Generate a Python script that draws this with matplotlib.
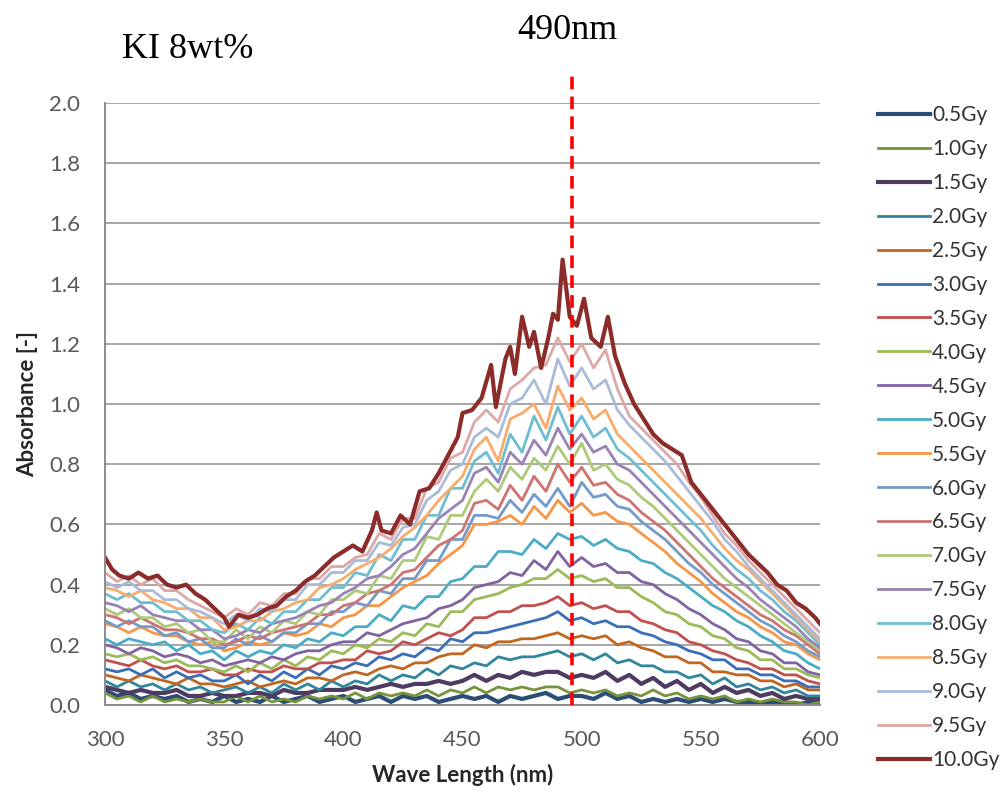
import numpy as np
import matplotlib
matplotlib.use("Agg")
import matplotlib.pyplot as plt

plt.rcParams['font.family'] = ['Lato', 'DejaVu Sans']

# Wellenlaengen-Raster (nm) fuer die meisten Kurven
wl = np.arange(300, 601, 5)

# Absorbanz je Dosis (61 Punkte, 300..600 nm)
abs_05 = [.05, .03, .04, .02, .03, .02, .03, .01, .02, .01,
          .03, .01, .02, .01, .03, .01, .02, .03, .01, .02,
          .03, .01, .02, .03, .01, .03, .02, .03, .01, .02,
          .03, .02, .03, .01, .03, .02, .03, .04, .02, .03,
          .03, .02, .04, .02, .03, .01, .02, .01, .02, .01,
          .02, .01, .02, .01, .01, .00, .01, .01, .00, .01,
          .01]
abs_10 = [.04, .02, .03, .01, .03, .01, .02, .01, .02, .01,
          .01, .03, .01, .03, .01, .02, .01, .03, .02, .03,
          .02, .04, .02, .04, .03, .04, .03, .05, .03, .05,
          .04, .06, .04, .06, .05, .06, .05, .06, .06, .04,
          .05, .04, .05, .03, .04, .03, .05, .03, .04, .02,
          .03, .02, .03, .01, .02, .01, .02, .01, .01, .00,
          .01]
abs_15 = [.06, .05, .04, .05, .04, .04, .05, .03, .03, .04,
          .03, .03, .04, .04, .03, .05, .04, .04, .05, .05,
          .05, .06, .05, .06, .07, .06, .07, .07, .08, .07,
          .08, .10, .08, .10, .09, .11, .10, .11, .11, .09,
          .10, .09, .11, .08, .10, .07, .09, .06, .08, .05,
          .07, .04, .06, .04, .05, .03, .04, .02, .03, .02,
          .02]
abs_20 = [.08, .06, .08, .06, .07, .05, .07, .05, .06, .04,
          .05, .06, .04, .06, .04, .07, .05, .07, .05, .08,
          .06, .08, .07, .10, .08, .10, .09, .12, .10, .13,
          .12, .14, .13, .16, .15, .16, .16, .17, .18, .16,
          .17, .15, .17, .14, .15, .13, .13, .11, .11, .09,
          .10, .07, .09, .06, .07, .05, .06, .04, .05, .03,
          .03]
abs_25 = [.10, .09, .08, .10, .09, .08, .07, .09, .07, .07,
          .06, .07, .08, .06, .07, .08, .07, .09, .09, .08,
          .10, .11, .10, .12, .13, .12, .14, .14, .16, .17,
          .17, .20, .19, .21, .21, .22, .22, .23, .24, .22,
          .23, .22, .23, .20, .21, .19, .18, .16, .16, .14,
          .14, .11, .11, .10, .10, .08, .08, .06, .07, .05,
          .05]
abs_30 = [.12, .11, .12, .10, .12, .09, .11, .09, .10, .08,
          .08, .10, .07, .10, .08, .11, .09, .12, .10, .13,
          .12, .14, .13, .16, .15, .17, .16, .19, .18, .22,
          .21, .24, .24, .25, .26, .27, .28, .29, .31, .28,
          .29, .27, .28, .26, .26, .24, .23, .21, .20, .18,
          .17, .15, .15, .12, .12, .10, .10, .08, .08, .06,
          .06]
abs_35 = [.15, .14, .13, .15, .13, .12, .13, .11, .11, .12,
          .10, .10, .12, .11, .11, .13, .12, .12, .14, .14,
          .15, .15, .18, .17, .18, .21, .20, .22, .24, .23,
          .25, .29, .29, .31, .31, .33, .33, .34, .36, .33,
          .34, .32, .33, .31, .31, .28, .27, .25, .24, .21,
          .20, .18, .17, .15, .14, .12, .12, .10, .10, .08,
          .07]
abs_40 = [.17, .16, .17, .15, .16, .14, .15, .13, .13, .12,
          .11, .13, .11, .14, .12, .15, .13, .16, .15, .18,
          .17, .20, .19, .22, .21, .24, .23, .27, .26, .31,
          .31, .35, .36, .37, .39, .40, .42, .42, .45, .42,
          .43, .41, .42, .39, .39, .36, .34, .31, .30, .27,
          .26, .23, .22, .19, .18, .15, .15, .12, .12, .10,
          .09]
abs_45 = [.20, .19, .17, .19, .18, .16, .17, .16, .14, .15,
          .13, .14, .15, .14, .16, .15, .17, .18, .18, .20,
          .21, .21, .24, .23, .25, .27, .28, .29, .32, .33,
          .35, .39, .40, .41, .44, .43, .48, .45, .51, .46,
          .49, .46, .47, .44, .44, .41, .40, .37, .35, .32,
          .30, .27, .25, .22, .21, .18, .17, .14, .14, .11,
          .10]
abs_50 = [.22, .20, .22, .21, .20, .21, .18, .20, .17, .18,
          .15, .18, .16, .18, .17, .20, .19, .22, .21, .24,
          .23, .26, .26, .30, .28, .33, .32, .36, .36, .41,
          .42, .46, .46, .51, .51, .50, .55, .52, .57, .55,
          .56, .53, .55, .52, .51, .48, .47, .44, .42, .39,
          .36, .33, .31, .28, .26, .23, .21, .18, .17, .14,
          .12]
abs_55 = [.27, .26, .24, .26, .24, .23, .23, .21, .20, .21,
          .18, .19, .21, .20, .21, .24, .23, .24, .27, .26,
          .29, .30, .33, .33, .36, .39, .41, .43, .47, .50,
          .53, .60, .60, .61, .63, .60, .66, .62, .68, .64,
          .67, .63, .64, .61, .60, .57, .54, .51, .47, .44,
          .41, .37, .34, .31, .29, .26, .24, .21, .20, .17,
          .15]
abs_60 = [.28, .26, .28, .26, .26, .23, .24, .21, .22, .19,
          .19, .22, .20, .23, .21, .24, .24, .27, .27, .31,
          .31, .34, .33, .38, .37, .42, .42, .48, .48, .55,
          .55, .63, .63, .62, .68, .64, .70, .66, .72, .66,
          .74, .69, .70, .66, .65, .61, .58, .55, .51, .47,
          .44, .40, .37, .34, .31, .28, .26, .23, .21, .18,
          .16]
abs_65 = [.30, .29, .27, .29, .27, .25, .25, .24, .22, .22,
          .20, .21, .23, .22, .24, .25, .26, .27, .30, .30,
          .33, .34, .37, .38, .40, .44, .45, .49, .53, .55,
          .58, .67, .68, .65, .73, .68, .76, .71, .80, .74,
          .79, .73, .74, .70, .68, .64, .61, .58, .54, .50,
          .46, .42, .39, .36, .33, .30, .28, .25, .23, .20,
          .17]
abs_70 = [.32, .30, .32, .29, .29, .26, .27, .24, .25, .21,
          .21, .25, .22, .26, .24, .28, .27, .31, .30, .35,
          .35, .38, .37, .43, .42, .48, .48, .56, .55, .63,
          .63, .71, .75, .71, .79, .75, .82, .78, .86, .80,
          .87, .78, .80, .75, .73, .69, .66, .62, .58, .54,
          .50, .46, .42, .39, .36, .33, .30, .27, .24, .21,
          .18]
abs_75 = [.34, .33, .31, .33, .30, .29, .28, .28, .25, .25,
          .22, .23, .25, .24, .27, .28, .29, .31, .33, .34,
          .37, .39, .42, .43, .46, .50, .52, .57, .62, .65,
          .68, .77, .79, .74, .84, .80, .88, .83, .92, .85,
          .90, .84, .86, .80, .78, .74, .70, .66, .62, .58,
          .54, .50, .46, .42, .39, .35, .32, .29, .26, .22,
          .19]
abs_80 = [.37, .35, .37, .34, .34, .31, .31, .28, .28, .25,
          .24, .27, .25, .29, .27, .31, .31, .35, .35, .39,
          .39, .44, .43, .50, .48, .55, .55, .63, .63, .72,
          .72, .81, .84, .77, .90, .84, .96, .88, .99, .90,
          .96, .89, .92, .85, .82, .78, .74, .70, .66, .62,
          .58, .53, .49, .45, .42, .38, .35, .31, .28, .24,
          .20]
abs_85 = [.39, .38, .36, .38, .35, .34, .32, .32, .29, .29,
          .25, .26, .28, .28, .31, .32, .34, .35, .39, .40,
          .42, .45, .47, .49, .52, .56, .59, .63, .68, .72,
          .76, .85, .89, .81, .95, .97, 1.00, .92, 1.06, .98,
          1.02, .95, .98, .90, .86, .82, .78, .74, .70, .66,
          .62, .57, .52, .48, .45, .41, .37, .33, .29, .25,
          .21]
abs_90 = [.41, .39, .41, .38, .38, .35, .35, .32, .31, .29,
          .27, .30, .28, .32, .31, .35, .35, .40, .40, .44,
          .44, .48, .48, .54, .53, .59, .60, .68, .71, .78,
          .80, .89, .92, .89, 1.00, 1.02, 1.08, 1.00, 1.15, 1.06,
          1.12, 1.05, 1.08, .98, .93, .89, .85, .81, .76, .71,
          .66, .61, .55, .51, .46, .42, .38, .34, .30, .26,
          .22]
abs_95 = [.44, .41, .43, .40, .42, .38, .38, .35, .33, .31,
          .29, .32, .30, .34, .33, .37, .37, .42, .42, .46,
          .46, .49, .50, .57, .55, .62, .62, .72, .74, .82,
          .84, .94, .98, .94, 1.05, 1.08, 1.12, 1.13, 1.22, 1.14,
          1.20, 1.12, 1.18, 1.05, .96, .92, .88, .84, .80, .74,
          .69, .63, .57, .53, .48, .44, .40, .36, .32, .28,
          .24]

# 10.0Gy mit feinerem Raster (Spitzen)
wl_100 = [300, 303, 306, 310, 314, 318, 322, 326, 330, 334,
          338, 342, 346, 350, 352, 356, 360, 364, 368, 372,
          376, 380, 384, 388, 392, 396, 400, 404, 408, 412,
          414, 416, 420, 424, 428, 432, 436, 440, 444, 448,
          450, 454, 458, 462, 464, 468, 470, 472, 475, 478,
          480, 483, 486, 488, 490, 492, 495, 498, 501, 504,
          508, 511, 514, 518, 522, 526, 530, 534, 538, 542,
          546, 550, 554, 558, 562, 566, 570, 574, 578, 582,
          586, 590, 594, 598, 600]
abs_100 = [.49, .45, .43, .42, .44, .42, .43, .40, .39, .40,
           .37, .35, .32, .29, .26, .30, .29, .30, .32, .33,
           .36, .38, .41, .43, .46, .49, .51, .53, .51, .58,
           .64, .58, .57, .63, .60, .71, .72, .77, .83, .89,
           .97, .98, 1.02, 1.13, .99, 1.15, 1.19, 1.10, 1.29, 1.19,
           1.24, 1.12, 1.22, 1.30, 1.28, 1.48, 1.29, 1.26, 1.35, 1.22,
           1.19, 1.29, 1.16, 1.07, 1.00, .95, .90, .87, .85, .83,
           .74, .70, .66, .62, .58, .54, .50, .47, .44, .40,
           .38, .34, .32, .29, .27]

labels = ["0.5Gy", "1.0Gy", "1.5Gy", "2.0Gy", "2.5Gy", "3.0Gy", "3.5Gy",
          "4.0Gy", "4.5Gy", "5.0Gy", "5.5Gy", "6.0Gy", "6.5Gy", "7.0Gy",
          "7.5Gy", "8.0Gy", "8.5Gy", "9.0Gy", "9.5Gy", "10.0Gy"]
daten = [abs_05, abs_10, abs_15, abs_20, abs_25, abs_30, abs_35, abs_40,
         abs_45, abs_50, abs_55, abs_60, abs_65, abs_70, abs_75, abs_80,
         abs_85, abs_90, abs_95, abs_100]
farben = ["#2C4D75", "#77933C", "#4D3B62", "#31859C", "#C0661E", "#3A6EB5",
          "#C0504D", "#9BBB59", "#8064A2", "#4BACC6", "#F79646", "#729ACA",
          "#CD7371", "#AFC97A", "#9983B5", "#6FBDD1", "#F9AB6B", "#A9BBD8",
          "#DDA9A8", "#8B2C2A"]
dick = ["0.5Gy", "1.5Gy", "10.0Gy"]

marker_wl = 496   # rote Markierung (490nm)

fig = plt.figure(figsize=(10.05, 7.93), dpi=100)
ax = fig.add_axes([0.1045, 0.111, 0.7114, 0.759])

for lab, y, c in zip(labels, daten, farben):
    x = wl_100 if lab == "10.0Gy" else wl
    lw = 3.0 if lab in dick else 2.0
    ax.plot(x, y, color=c, lw=lw, label=lab, solid_joinstyle="round")

ax.plot([marker_wl, marker_wl], [0, 2.11], color="#FF0000", lw=2.6,
        linestyle=(0, (3.5, 2)), clip_on=False, zorder=5)

ax.set_xlim(300, 600)
ax.set_ylim(0, 2.0)
ax.set_xticks(np.arange(300, 601, 50))
ax.set_yticks(np.arange(0, 2.01, 0.2))
ax.set_yticklabels([f"{v:.1f}" for v in np.arange(0, 2.01, 0.2)])
ax.yaxis.grid(True, color="#A6A6A6", lw=1.4)
ax.set_axisbelow(True)
for s in ["top", "right"]:
    ax.spines[s].set_visible(False)
for s in ["left", "bottom"]:
    ax.spines[s].set_color("#8C8C8C")
    ax.spines[s].set_linewidth(1.4)
ax.tick_params(length=0, labelsize=16, colors="#595959")
ax.tick_params(axis="y", pad=18)
ax.tick_params(axis="x", pad=18)

ax.set_xlabel("Wave Length (nm)", fontsize=16, fontweight="bold", color="#262626", labelpad=10)
ax.set_ylabel("Absorbance [-]", fontsize=16, fontweight="bold", color="#262626", labelpad=8)

fig.legend(loc="upper left", bbox_to_anchor=(878 / 1005, 1 - 105 / 793),
           frameon=False, fontsize=15, labelspacing=0.67, handlelength=2.5,
           handletextpad=0.1, borderpad=0, borderaxespad=0, labelcolor="#333333")

fig.text(567 / 1005, 1 - 39 / 793, "490nm", family="Liberation Serif",
         fontsize=26, ha="center", va="baseline")
fig.text(122 / 1005, 1 - 58 / 793, "KI 8wt%", family="Liberation Serif",
         fontsize=26, ha="left", va="baseline")

fig.savefig("out.png", dpi=100)
